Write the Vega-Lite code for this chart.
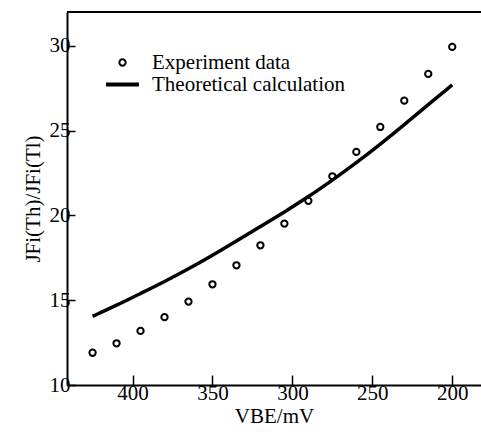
{
  "$schema": "https://vega.github.io/schema/vega-lite/v6.json",
  "width": 414,
  "height": 373,
  "autosize": "none",
  "padding": {"left": 67, "top": 12, "right": 0, "bottom": 50},
  "background": "white",
  "config": {
    "view": {"stroke": null},
    "font": "Liberation Serif",
    "axis": {
      "grid": false,
      "domainColor": "black",
      "domainWidth": 2,
      "tickColor": "black",
      "tickWidth": 1.5,
      "labelColor": "black",
      "labelFontSize": 21,
      "titleColor": "black",
      "titleFontSize": 21,
      "titleFontWeight": "normal"
    }
  },
  "datasets": {
    "exp": [
      {"V": 425, "J": 11.9, "series": "Experiment data"},
      {"V": 410, "J": 12.46, "series": "Experiment data"},
      {"V": 395, "J": 13.19, "series": "Experiment data"},
      {"V": 380, "J": 14.0, "series": "Experiment data"},
      {"V": 365, "J": 14.92, "series": "Experiment data"},
      {"V": 350, "J": 15.94, "series": "Experiment data"},
      {"V": 335, "J": 17.06, "series": "Experiment data"},
      {"V": 320, "J": 18.24, "series": "Experiment data"},
      {"V": 305, "J": 19.52, "series": "Experiment data"},
      {"V": 290, "J": 20.86, "series": "Experiment data"},
      {"V": 275, "J": 22.31, "series": "Experiment data"},
      {"V": 260, "J": 23.75, "series": "Experiment data"},
      {"V": 245, "J": 25.22, "series": "Experiment data"},
      {"V": 230, "J": 26.77, "series": "Experiment data"},
      {"V": 215, "J": 28.35, "series": "Experiment data"},
      {"V": 200, "J": 29.94, "series": "Experiment data"}
    ],
    "theory": [
      {"V": 425, "J": 14.05},
      {"V": 410, "J": 14.7},
      {"V": 395, "J": 15.4},
      {"V": 380, "J": 16.1},
      {"V": 365, "J": 16.85},
      {"V": 350, "J": 17.65},
      {"V": 335, "J": 18.5},
      {"V": 320, "J": 19.35},
      {"V": 305, "J": 20.2},
      {"V": 290, "J": 21.1},
      {"V": 275, "J": 22.08},
      {"V": 260, "J": 23.1},
      {"V": 245, "J": 24.2},
      {"V": 230, "J": 25.35},
      {"V": 215, "J": 26.55},
      {"V": 200, "J": 27.7}
    ]
  },
  "layer": [
    {
      "data": {"values": [{}]},
      "mark": {"type": "rule", "color": "black", "strokeWidth": 2},
      "encoding": {
        "y": {"datum": 32, "type": "quantitative", "scale": {"domain": [10, 32], "nice": false, "zero": false}}
      }
    },
    {
      "data": {"name": "theory"},
      "mark": {"type": "line", "color": "black", "strokeWidth": 3.5, "interpolate": "basis"},
      "encoding": {
        "x": {
          "field": "V", "type": "quantitative",
          "scale": {"domain": [182, 441], "reverse": true, "nice": false, "zero": false},
          "axis": {"values": [400, 350, 300, 250, 200], "tickSize": -10, "labelPadding": 7, "title": "VBE/mV", "titlePadding": 2}
        },
        "y": {
          "field": "J", "type": "quantitative",
          "scale": {"domain": [10, 32], "nice": false, "zero": false},
          "axis": {"values": [10, 15, 20, 25, 30], "tickSize": -8, "labelPadding": 5, "title": "JFi(Th)/JFi(Tl)", "titlePadding": 6}
        }
      }
    },
    {
      "data": {"name": "exp"},
      "mark": {"type": "point", "filled": false, "color": "black", "opacity": 1},
      "encoding": {
        "x": {"field": "V", "type": "quantitative"},
        "y": {"field": "J", "type": "quantitative"},
        "shape": {
          "field": "series", "type": "nominal",
          "scale": {"domain": ["Experiment data", "Theoretical calculation"], "range": ["circle", "M-2.5,0H2.5"]},
          "legend": {
            "title": null, "orient": "none", "legendX": 45, "legendY": 40, "padding": 0,
            "labelFontSize": 21, "labelColor": "black", "labelOffset": 19, "labelLimit": 400, "rowPadding": 0,
            "symbolStrokeColor": "black", "symbolFillColor": "transparent"
          }
        },
        "size": {
          "field": "series", "type": "nominal",
          "scale": {"domain": ["Experiment data", "Theoretical calculation"], "range": [40, 174]}
        },
        "strokeWidth": {
          "field": "series", "type": "nominal",
          "scale": {"domain": ["Experiment data", "Theoretical calculation"], "range": [2, 4]}
        }
      }
    }
  ]
}
